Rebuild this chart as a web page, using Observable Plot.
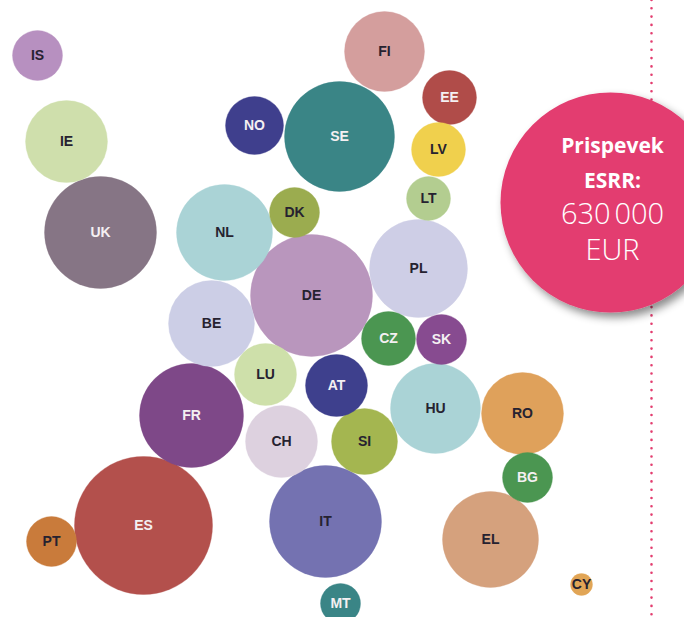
<!DOCTYPE html>
<html>
<head>
<meta charset="utf-8">
<script src="https://cdn.jsdelivr.net/npm/d3@7"></script>
<script src="https://cdn.jsdelivr.net/npm/@observablehq/plot@0.6"></script>
<style>
  html, body { margin: 0; padding: 0; background: #ffffff; }
  #chart { width: 684px; height: 617px; overflow: hidden; }
</style>
</head>
<body>
<div id="chart"></div>
<script>
// Country codes
const countries = ["IS","IE","UK","NO","SE","FI","EE","LV","LT","DK","NL","DE","PL","BE","LU","FR","CH","AT","CZ","SK","SI","HU","RO","BG","ES","PT","IT","EL","MT","CY"];
// Bubble layout position (map-like layout units)
const posX = [37,66,100,254,339,384,449,438,428,294,224,311,418,211,265,191,281,336,388,441,364,435,522,527,143,51,325,490,340,581];
const posY = [55,141,232,125,136,51,97,149,198,212,232,295,268,323,374,415,441,385,338,339,441,408,413,477,525,541,521,539,603,584];
// Bubble size (radius units)
const size = [25,41,56,29,55,40,27,27,22,25,48,61,49,43,31,52,36,31,27,25,33,45,41,25,69,25,56,48,20,11];
// Bubble colours
const colours = ["#b790c0","#cfdfac","#867585","#3f3f8d","#3a8586","#d49e9d","#b04c49","#f0d04d","#b3cd90","#9bac4f","#aad3d6","#b996bd","#cecee6","#cccee6","#cee0aa","#7e4888","#ddd1df","#3e408d","#4b9651","#874b90","#a4b650","#aad3d6","#dfa15b","#4b9651","#b3504c","#c97b3b","#7472b1","#d5a17d","#3a8586","#e1a556"];
// Light-on-dark labels
const whiteLabel = ["UK","NO","SE","EE","FR","AT","CZ","SK","BG","ES","MT"];

const bubbles = countries.map((c, i) => ({
  code: c, x: posX[i], y: posY[i], r: size[i], fill: colours[i],
  label: whiteLabel.includes(c) ? "#f4f0f2" : "#262230"
}));

const badgeLines = ["Prispevek", "ESRR:", "630\u202F000", "EUR"];
const badge = [{x: 610, y: 202, r: 110}];
const badgeText = [
  {x: 612, y: 146, t: badgeLines[0], w: 700, s: 21},
  {x: 612, y: 181, t: badgeLines[1], w: 700, s: 21},
  {x: 612, y: 214, t: badgeLines[2], w: 300, s: 29},
  {x: 612, y: 250, t: badgeLines[3], w: 300, s: 29}
];
const pink = "#e33d6f";

const plot = Plot.plot({
  width: 684,
  height: 617,
  margin: 0,
  x: {domain: [0, 684], axis: null},
  y: {domain: [0, 617], reverse: true, axis: null},
  r: {type: "identity"},
  style: {background: "#ffffff"},
  marks: [
    Plot.dot(bubbles, {x: "x", y: "y", r: "r", fill: "fill", stroke: "fill", strokeOpacity: 0.35, strokeWidth: 1}),
    Plot.text(bubbles, {x: "x", y: "y", text: "code", fill: "label", fontWeight: "bold", fontSize: 14, fontFamily: "Liberation Sans, Arial, sans-serif"}),
    Plot.ruleX([651], {y1: 0, y2: 617, stroke: pink, strokeWidth: 2.6, strokeDasharray: "0,8.3", strokeLinecap: "round"}),
    Plot.dot(badge, {x: "x", y: "y", r: "r", fill: pink}),
    ...badgeText.map(d => Plot.text([d], {x: "x", y: "y", text: "t", fill: "#ffffff", fontWeight: d.w, fontSize: d.s, fontFamily: "Open Sans, Lato, sans-serif"}))
  ]
});

// drop shadow for the badge circle
const svg = d3.select(plot);
const defs = svg.insert("defs", ":first-child");
const f = defs.append("filter").attr("id", "badgeShadow").attr("x", "-20%").attr("y", "-20%").attr("width", "150%").attr("height", "150%");
f.append("feDropShadow").attr("dx", 4).attr("dy", 5).attr("stdDeviation", 4).attr("flood-color", "#000").attr("flood-opacity", 0.45);
svg.selectAll("g").filter(function() { return this.getAttribute("fill") === pink; }).attr("filter", "url(#badgeShadow)");

document.getElementById("chart").appendChild(plot);
</script>
</body>
</html>
